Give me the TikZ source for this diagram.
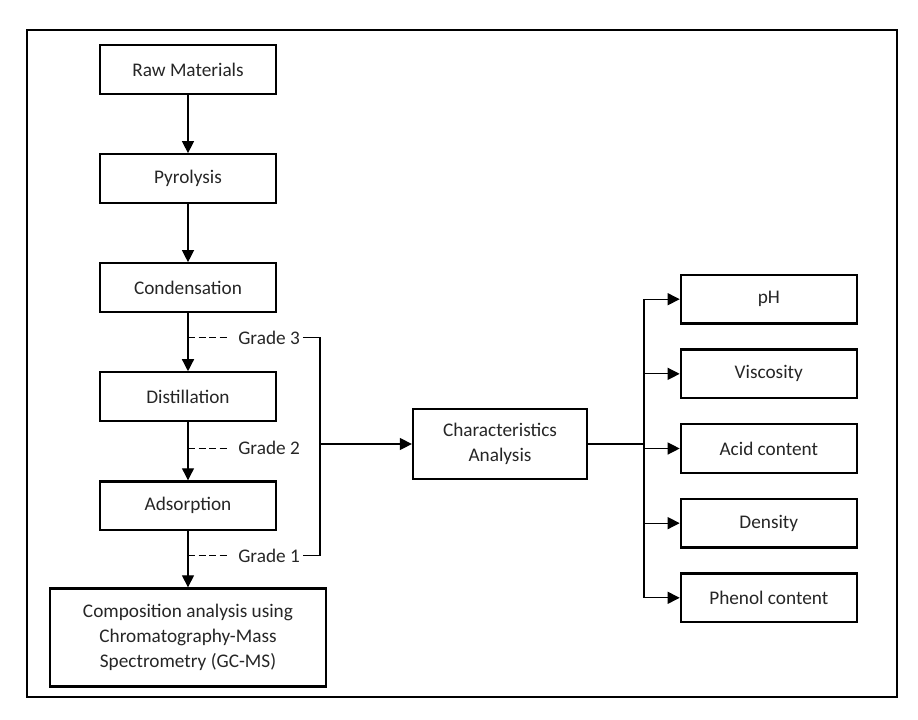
\documentclass[tikz,border=0pt]{standalone}
\usepackage{fontspec}
\setmainfont{Carlito}
\usepackage{tikz}
\usetikzlibrary{arrows.meta,positioning,calc}
\usepackage{xcolor}
\definecolor{boxtext}{HTML}{262626}
\tikzset{
  stagebox/.style={
    draw=black,
    line width=1.6pt,
    fill=white,
    minimum width=4.4cm,
    minimum height=1.22cm,
    align=center,
    text=boxtext,
    font=\fontsize{13.7pt}{18pt}\selectfont
  },
  propbox/.style={
    stagebox
  },
  gradelabel/.style={
    anchor=west,
    inner sep=2pt,
    text=boxtext,
    font=\fontsize{13.7pt}{18pt}\selectfont
  },
  arrow/.style={
    -{Triangle[length=3mm,width=3mm]},
    line width=0.9pt,
    draw=black
  },
  link/.style={
    line width=0.9pt,
    draw=black
  }
}

\begin{document}
\begin{tikzpicture}[node distance=1.45cm and 0.9cm]
\useasboundingbox (0,0) rectangle (22.95,-17.975);
% outer frame
\draw[line width=1.3pt] (0.675,-0.75) rectangle (22.425,-17.425);

% process chain
\node[stagebox] (raw) at (4.7,-1.74) {Raw Materials};
\node[stagebox, below=of raw] (pyro) {Pyrolysis};
\node[stagebox, below=of pyro] (cond) {Condensation};
\node[stagebox, below=of cond] (dist) {Distillation};
\node[stagebox, below=of dist] (ads) {Adsorption};
\node[stagebox, below=1.4cm of ads, minimum width=6.9cm, minimum height=2.45cm]
  (comp) {Composition analysis using\\Chromatography-Mass\\Spectrometry (GC-MS)};
\draw[arrow] (raw) -- (pyro);
\draw[arrow] (pyro) -- (cond);
\draw[arrow] (cond) -- (dist);
\draw[arrow] (dist) -- (ads);
\draw[arrow] (ads) -- (comp);

% grades
\coordinate (g3) at ($(cond.south)!0.42!(dist.north)$);
\coordinate (g2) at ($(dist.south)!0.45!(ads.north)$);
\coordinate (g1) at ($(ads.south)!0.43!(comp.north)$);
\node[gradelabel] (lab3) at ($(g3)+(1.18,0)$) {Grade 3};
\node[gradelabel] (lab2) at ($(g2)+(1.18,0)$) {Grade 2};
\node[gradelabel] (lab1) at ($(g1)+(1.18,0)$) {Grade 1};
\foreach \n in {3,2,1} {
  \draw[link, dash pattern=on 5pt off 2.5pt] (g\n) -- ++(1.0,0);
}
\coordinate (top) at (8,0 |- g3);
\coordinate (bot) at (8,0 |- g1);
\draw[link] (lab3.east) -- (top) -- (bot) -- (lab1.east);

% analysis
\node[stagebox, minimum width=4.35cm, minimum height=1.75cm] (char) at (12.5,-11.1)
  {Characteristics\\Analysis};
\draw[arrow] (top |- char) -- (char);

\node[propbox] (ph) at (19.22,-7.48) {pH};
\node[propbox, below=0.59cm of ph] (visc) {Viscosity};
\node[propbox, below=0.59cm of visc] (acid) {Acid content};
\node[propbox, below=0.59cm of acid] (dens) {Density};
\node[propbox, below=0.59cm of dens] (phen) {Phenol content};
\coordinate (bus) at (16.1,0 |- char);
\draw[link] (char.east) -- (bus);
\draw[link] (bus |- ph) -- (bus |- phen);
\foreach \n in {ph,visc,acid,dens,phen} {
  \draw[arrow] (bus |- \n) -- (\n.west);
}
\end{tikzpicture}
\end{document}
